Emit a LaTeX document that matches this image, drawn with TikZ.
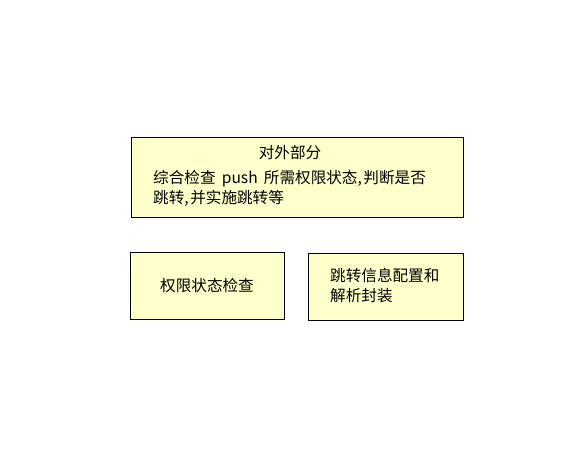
\documentclass[tikz,border=0pt]{standalone}
\usepackage{fontspec}
\setmainfont{Noto Sans CJK SC}
\definecolor{boxfill}{HTML}{FFFFCC}
\begin{document}
\begin{tikzpicture}[x=1pt, y=-1pt,
                    part/.style={draw=black, line width=0.8pt, fill=boxfill, inner sep=0pt},
                    txt/.style={inner sep=0pt, font=\fontsize{15.6}{20}\selectfont, align=left}]
  \useasboundingbox (0,0) rectangle (585,449);
  \node[part, minimum width=332pt, minimum height=80pt] (outer) at (297,177) {};
  \node[part, minimum width=154pt, minimum height=67pt] (check) at (207,285.5) {};
  \node[part, minimum width=155pt, minimum height=67pt] (jump) at (385.5,286.5) {};
  \node[txt] (outertitle) at (290,153) {对外部分};
  \node[txt, anchor=west] (outerbody) at (153,188) {综合检查\hspace{0.4em}push\hspace{0.4em}所需权限状态,\hspace{0.1em}判断是否\\跳转,\hspace{0.1em}并实施跳转等};
  \node[txt] (checktext) at (check.center) {权限状态检查};
  \node[txt, anchor=west] (jumptext) at (330,286) {跳转信息配置和\\解析封装};
\end{tikzpicture}
\end{document}
